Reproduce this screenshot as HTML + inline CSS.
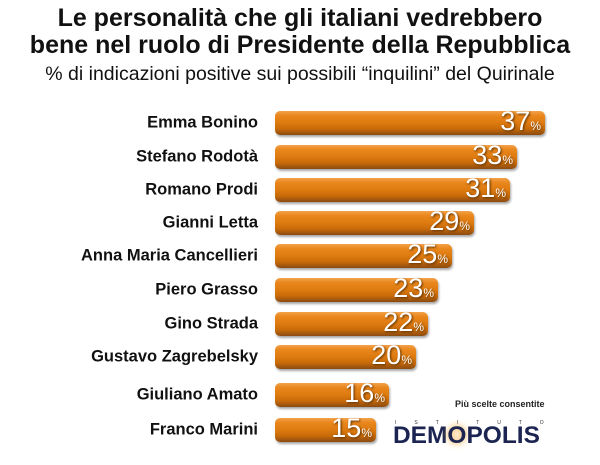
<!DOCTYPE html>
<html><head><meta charset="utf-8"><style>
body{margin:0;width:600px;height:465px;background:#fff;font-family:"Liberation Sans",sans-serif;position:relative;overflow:hidden}
.t{position:absolute;left:0;width:600px;text-align:center;font-weight:bold;color:#111;white-space:nowrap}
.lab{position:absolute;right:342px;font-weight:bold;font-size:16.5px;color:#111;transform:translateY(-50%);white-space:nowrap}
.bar{position:absolute;left:275px;height:24px;border-radius:5px;transform:translateY(-50%);
background:linear-gradient(#f3a24a 0%,#e9861c 20%,#dd7a10 50%,#c86a0a 75%,#8a4a10 100%);box-shadow:1px 2px 2px rgba(0,0,0,.35)}
.v{position:absolute;right:4px;top:-5px;color:#fff;font-size:27px;text-shadow:1px 1px 2px #5a3000;white-space:nowrap}
.v small{font-size:12px}
</style></head><body>
<div class="t" style="top:4px;font-size:25px">Le personalità che gli italiani vedrebbero</div>
<div class="t" style="top:31px;font-size:25px">bene nel ruolo di Presidente della Repubblica</div>
<div style="position:absolute;top:63px;width:600px;text-align:center;font-size:19.5px;color:#111;white-space:nowrap">% di indicazioni positive sui possibili “inquilini” del Quirinale</div>

<div class="lab" style="top:123px">Emma Bonino</div><div class="bar" style="top:123px;width:270px"><span class="v">37<small>%</small></span></div>
<div class="lab" style="top:157px">Stefano Rodotà</div><div class="bar" style="top:157px;width:242px"><span class="v">33<small>%</small></span></div>
<div class="lab" style="top:190px">Romano Prodi</div><div class="bar" style="top:190px;width:235px"><span class="v">31<small>%</small></span></div>
<div class="lab" style="top:223px">Gianni Letta</div><div class="bar" style="top:223px;width:199px"><span class="v">29<small>%</small></span></div>
<div class="lab" style="top:256px">Anna Maria Cancellieri</div><div class="bar" style="top:256px;width:177px"><span class="v">25<small>%</small></span></div>
<div class="lab" style="top:290px">Piero Grasso</div><div class="bar" style="top:290px;width:163px"><span class="v">23<small>%</small></span></div>
<div class="lab" style="top:324px">Gino Strada</div><div class="bar" style="top:324px;width:153px"><span class="v">22<small>%</small></span></div>
<div class="lab" style="top:357px">Gustavo Zagrebelsky</div><div class="bar" style="top:357px;width:141px"><span class="v">20<small>%</small></span></div>
<div class="lab" style="top:395px">Giuliano Amato</div><div class="bar" style="top:395px;width:114px"><span class="v">16<small>%</small></span></div>
<div class="lab" style="top:430px">Franco Marini</div><div class="bar" style="top:430px;width:101px"><span class="v">15<small>%</small></span></div>

<div style="position:absolute;left:455px;top:399px;font-size:9px;font-weight:bold;color:#222">Più scelte consentite</div>
<div style="position:absolute;left:395px;top:420px;width:160px;font-size:5px;letter-spacing:18px;color:#333">ISTITUTO</div>
<div style="position:absolute;left:393px;top:422px;font-size:24px;font-weight:900;color:#1c2552;letter-spacing:0px;transform:scaleX(1.02);transform-origin:left">DEM<span style="text-shadow:0 0 7px #f0a020">O</span>POLIS</div>
</body></html>
